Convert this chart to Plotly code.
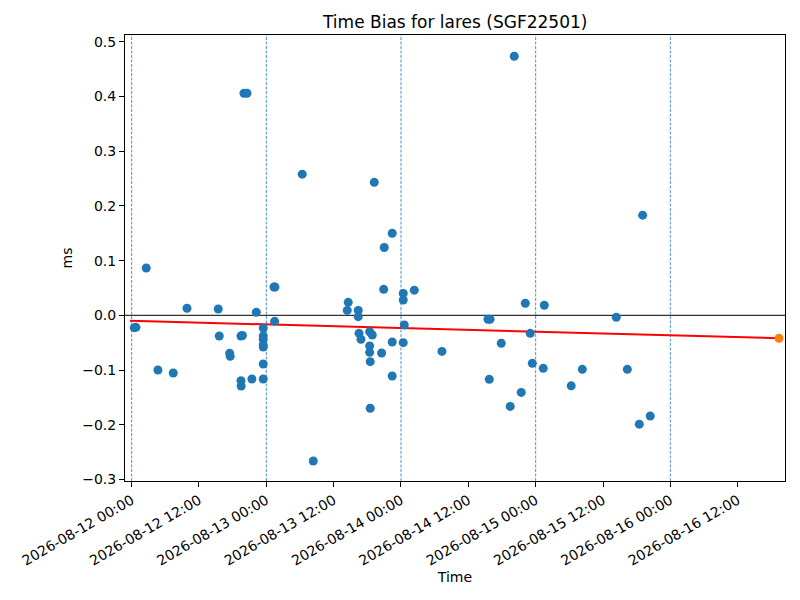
import plotly.graph_objects as go

# observation epochs and time bias (ms)
obs_time = [
    "2026-08-12 00:28", "2026-08-12 00:46", "2026-08-12 02:36", "2026-08-12 04:41",
    "2026-08-12 07:25", "2026-08-12 09:52", "2026-08-12 15:26", "2026-08-12 15:37",
    "2026-08-12 17:28", "2026-08-12 17:34", "2026-08-12 19:29", "2026-08-12 19:45",
    "2026-08-12 19:29", "2026-08-12 19:31", "2026-08-12 20:01", "2026-08-12 20:33",
    "2026-08-12 21:26", "2026-08-12 22:13", "2026-08-12 23:27", "2026-08-12 23:27",
    "2026-08-12 23:27", "2026-08-12 23:27", "2026-08-12 23:28", "2026-08-12 23:27",
    "2026-08-12 23:27", "2026-08-13 01:22", "2026-08-13 01:32", "2026-08-13 01:29",
    "2026-08-13 06:24", "2026-08-13 08:22", "2026-08-13 14:25", "2026-08-13 14:36",
    "2026-08-13 16:23", "2026-08-13 16:23", "2026-08-13 16:31", "2026-08-13 16:52",
    "2026-08-13 18:25", "2026-08-13 18:53", "2026-08-13 18:25", "2026-08-13 18:25",
    "2026-08-13 18:31", "2026-08-13 18:31", "2026-08-13 19:14", "2026-08-13 20:33",
    "2026-08-13 20:55", "2026-08-13 21:01", "2026-08-13 22:26", "2026-08-13 22:26",
    "2026-08-13 22:26", "2026-08-14 00:24", "2026-08-14 00:24", "2026-08-14 00:35",
    "2026-08-14 00:24", "2026-08-14 02:22", "2026-08-14 07:18", "2026-08-14 15:30",
    "2026-08-14 15:52", "2026-08-14 15:44", "2026-08-14 17:52", "2026-08-14 19:28",
    "2026-08-14 20:11", "2026-08-14 21:26", "2026-08-14 22:09", "2026-08-14 23:02",
    "2026-08-14 23:24", "2026-08-15 01:21", "2026-08-15 01:32", "2026-08-15 06:20",
    "2026-08-15 08:19", "2026-08-15 14:22", "2026-08-15 16:20", "2026-08-15 18:28",
    "2026-08-15 19:04", "2026-08-15 20:25",
]
time_bias = [
    -0.0226, -0.0220, 0.0865, -0.100,
    -0.1055, 0.0128, 0.0115, -0.0378,
    -0.0695, -0.075, -0.0378, -0.0370,
    -0.1195, -0.1293, 0.406, 0.406,
    -0.1165, 0.0055, -0.0232, -0.0379,
    -0.044, -0.0543, -0.058, -0.089,
    -0.1165, 0.0517, 0.0517, -0.011,
    0.258, -0.2664, 0.009, 0.0237,
    0.009, -0.0025, -0.033, -0.044,
    -0.030, -0.036, -0.056, -0.0677,
    -0.0848, -0.170, 0.243, -0.069,
    0.0475, 0.124, 0.150, -0.0488,
    -0.111, 0.040, 0.028, -0.0177,
    -0.050, 0.046, -0.066, -0.0073,
    -0.0073, -0.117, -0.051, -0.1665,
    0.4735, -0.141, 0.022, -0.033,
    -0.0878, -0.097, 0.0183, -0.129,
    -0.0988, -0.0037, -0.0988, -0.199,
    0.183, -0.184,
]

# linear fit and predicted value
fit_time = ["2026-08-11 23:42", "2026-08-16 19:22"]
fit_bias = [-0.0099, -0.042]
pred_time = ["2026-08-16 19:22"]
pred_bias = [-0.042]

day_marks = ["2026-08-12", "2026-08-13", "2026-08-14", "2026-08-15", "2026-08-16"]

x_range = ["2026-08-11 22:49", "2026-08-16 20:26"]
y_range = [-0.3029, 0.5124]

fig = go.Figure()

for d in day_marks:
    fig.add_shape(type="line", xref="x", yref="paper", x0=d, x1=d, y0=0, y1=1,
                  line=dict(color="#1f77b4", width=0.8, dash="3px,1.5px"), layer="below")
fig.add_shape(type="line", xref="paper", yref="y", x0=0, x1=1, y0=0, y1=0,
              line=dict(color="black", width=1), layer="below")

fig.add_trace(go.Scatter(x=fit_time, y=fit_bias, mode="lines",
                         line=dict(color="red", width=2), showlegend=False))

fig.add_trace(go.Scatter(x=obs_time, y=time_bias, mode="markers",
                         marker=dict(color="#1f77b4", size=9), showlegend=False))

fig.add_trace(go.Scatter(x=pred_time, y=pred_bias, mode="markers",
                         marker=dict(color="#ff7f0e", size=9), showlegend=False))

# the page puts the figure 8px in from the top-left corner; margins allow for it
font = "DejaVu Sans"
fig.update_layout(
    width=800, height=600,
    margin=dict(l=117, r=23, t=27, b=127),
    paper_bgcolor="white", plot_bgcolor="white",
    font=dict(family=font, size=14, color="black"),
    title=dict(text="Time Bias for lares (SGF22501)", x=0.559, xanchor="center",
               y=0.9767, yanchor="middle", font=dict(size=17)),
)
fig.update_xaxes(
    range=x_range, type="date", automargin=False,
    tick0="2026-08-12", dtick=43200000, tickformat="%Y-%m-%d %H:%M",
    tickangle=-30, ticks="outside", ticklen=5, tickcolor="black",
    showgrid=False, zeroline=False,
    showline=True, mirror=True, linecolor="black", linewidth=1,
    title=dict(text="Time", font=dict(size=14), standoff=4),
)
fig.update_yaxes(
    range=y_range, dtick=0.1, tick0=0, tickformat=".1f", automargin=False,
    ticks="outside", ticklen=5, tickcolor="black",
    showgrid=False, zeroline=False,
    showline=True, mirror=True, linecolor="black", linewidth=1,
    title=dict(text="ms", font=dict(size=14), standoff=6),
)

fig.write_html("out.html")
